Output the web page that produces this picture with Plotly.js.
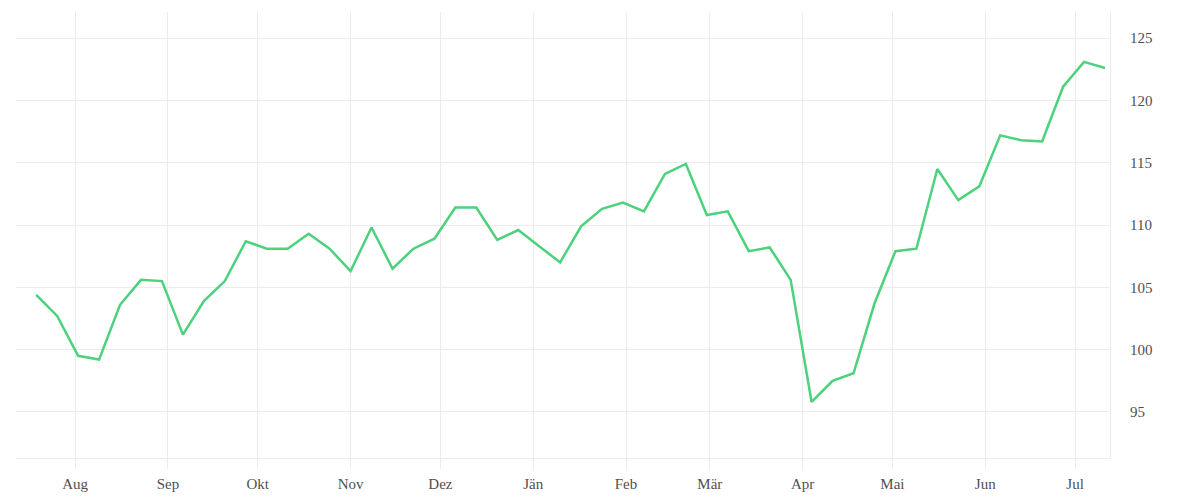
<!DOCTYPE html>
<html>
<head>
<meta charset="utf-8">
<script src="https://cdn.plot.ly/plotly-3.0.1.min.js"></script>
<style>
  html, body { margin: 0; padding: 0; background: #fff; }
  #plot { width: 1200px; height: 500px; }
</style>
</head>
<body>
<div id="plot"></div>
<script>
// Weekly closes (Fridays), mid-July to mid-July
var weekStart = '2024-07-19';
var values = [
  104.4, 102.7, 99.5, 99.2, 103.6, 105.6, 105.5, 101.2, 103.9, 105.5,
  108.7, 108.1, 108.1, 109.3, 108.1, 106.3, 109.8, 106.5, 108.1, 108.9,
  111.4, 111.4, 108.8, 109.6, 108.3, 107.0, 109.9, 111.3, 111.8, 111.1,
  114.1, 114.9, 110.8, 111.1, 107.9, 108.2, 105.6, 95.8, 97.5, 98.1,
  103.7, 107.9, 108.1, 114.5, 112.0, 113.1, 117.2, 116.8, 116.7, 121.1,
  123.1, 122.6
];

// month ticks (German / Austrian labels)
var monthTicks = ['2024-08-01', '2024-09-01', '2024-10-01', '2024-11-01', '2024-12-01', '2025-01-01',
                  '2025-02-01', '2025-03-01', '2025-04-01', '2025-05-01', '2025-06-01', '2025-07-01'];
var monthLabels = ['Aug', 'Sep', 'Okt', 'Nov', 'Dez', 'Jän', 'Feb', 'Mär', 'Apr', 'Mai', 'Jun', 'Jul'];

var yTicks = [95, 100, 105, 110, 115, 120, 125];

// build the weekly dates
var dates = [];
var d0 = new Date(weekStart + 'T00:00:00Z');
for (var i = 0; i < values.length; i++) {
  var d = new Date(d0.getTime() + i * 7 * 86400000);
  dates.push(d.toISOString().slice(0, 10));
}

var gridCol = '#ececec';
var tickFont = {family: 'Liberation Serif, Times New Roman, serif', size: 15, color: '#505050'};

var data = [{
  x: dates,
  y: values,
  type: 'scatter',
  mode: 'lines',
  line: {color: '#4cd17c', width: 2.5},
  hoverinfo: 'x+y'
}];

var layout = {
  width: 1200,
  height: 500,
  paper_bgcolor: '#fff',
  plot_bgcolor: '#fff',
  showlegend: false,
  margin: {l: 16, r: 90, t: 12, b: 42, pad: 0},
  xaxis: {
    type: 'date',
    range: ['2024-07-12 06:00', '2025-07-12 16:00'],
    tickvals: monthTicks,
    ticktext: monthLabels,
    showgrid: true,
    gridcolor: gridCol,
    gridwidth: 1,
    ticks: 'outside',
    ticklen: 10,
    tickcolor: gridCol,
    tickwidth: 1,
    showline: true,
    linecolor: gridCol,
    linewidth: 1,
    zeroline: false,
    ticklabelstandoff: 2,
    tickfont: tickFont
  },
  yaxis: {
    side: 'right',
    range: [91.3, 127.1],
    tickvals: yTicks,
    showgrid: true,
    gridcolor: gridCol,
    gridwidth: 1,
    ticks: '',
    showline: true,
    linecolor: gridCol,
    linewidth: 1,
    zeroline: false,
    ticklabelstandoff: 16,
    tickfont: tickFont
  }
};

Plotly.newPlot('plot', data, layout, {displayModeBar: false, staticPlot: true});
</script>
</body>
</html>
